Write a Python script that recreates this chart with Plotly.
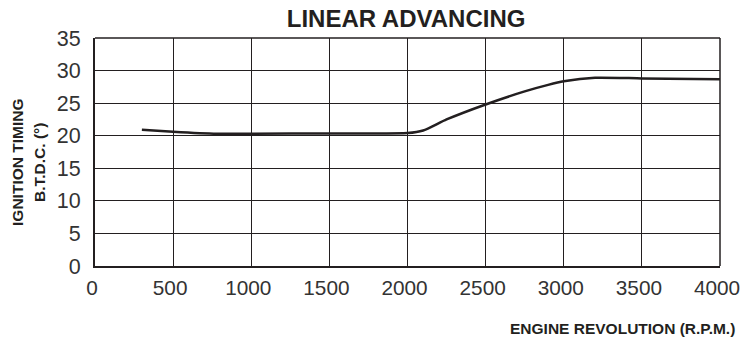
import plotly.graph_objects as go

rpm = [300, 550, 800, 1000, 1500, 2000, 2100, 2250, 2500, 2750, 2900, 3000, 3200, 3500, 4000]
timing = [20.9, 20.55, 20.3, 20.3, 20.35, 20.4, 20.8, 22.5, 24.8, 26.8, 27.8, 28.35, 28.9, 28.8, 28.65]

x_ticks = [0, 500, 1000, 1500, 2000, 2500, 3000, 3500, 4000]
y_ticks = [0, 5, 10, 15, 20, 25, 30, 35]

INK = "#231f20"
FONT = "Liberation Sans, Arial, sans-serif"

fig = go.Figure()
fig.add_trace(
    go.Scatter(
        x=rpm,
        y=timing,
        mode="lines",
        line=dict(color=INK, width=2.5, shape="spline", smoothing=0.6),
        showlegend=False,
    )
)

fig.update_layout(
    width=741,
    height=339,
    margin=dict(l=95, r=21, t=38, b=73),
    paper_bgcolor="white",
    plot_bgcolor="white",
    font=dict(family=FONT, color=INK),
    title=dict(
        text="<b>LINEAR ADVANCING</b>",
        x=0.548,
        xanchor="center",
        y=0.945,
        yanchor="middle",
        font=dict(size=24, family=FONT, color=INK),
    ),
    xaxis=dict(
        range=[0, 4000],
        tickvals=x_ticks,
        showgrid=True,
        gridcolor=INK,
        gridwidth=1,
        showline=True,
        linecolor=INK,
        linewidth=2,
        ticks="",
        zeroline=False,
        automargin=False,
        ticklabeloverflow="allow",
        ticklabelshift=-3,
        tickfont=dict(size=20.8, color="#333333"),
        ticklabelstandoff=2,
    ),
    yaxis=dict(
        range=[0, 35],
        tickvals=y_ticks,
        showgrid=True,
        gridcolor=INK,
        gridwidth=1,
        showline=True,
        linecolor=INK,
        linewidth=2,
        ticks="",
        zeroline=False,
        automargin=False,
        ticklabeloverflow="allow",
        tickfont=dict(size=21.5, color="#333333"),
        ticklabelstandoff=8,
    ),
    shapes=[
        dict(type="line", xref="paper", yref="paper", x0=0, x1=1, y0=1, y1=1,
             line=dict(color=INK, width=1.5)),
        dict(type="line", xref="paper", yref="paper", x0=1, x1=1, y0=0, y1=1,
             line=dict(color=INK, width=1.5)),
    ],
    annotations=[
        dict(text="<b>IGNITION TIMING</b>", xref="paper", yref="paper",
             x=-0.1232, y=0.452, xanchor="center", yanchor="middle", textangle=-90,
             showarrow=False, font=dict(size=15.5, family=FONT, color=INK)),
        dict(text="<b>B.T.D.C. (°)</b>", xref="paper", yref="paper",
             x=-0.088, y=0.452, xanchor="center", yanchor="middle", textangle=-90,
             showarrow=False, font=dict(size=15.5, family=FONT, color=INK)),
        dict(text="<b>ENGINE REVOLUTION (R.P.M.)</b>", xref="paper", yref="paper",
             x=1.0272, y=-0.272, xanchor="right", yanchor="middle",
             showarrow=False, font=dict(size=15.5, family=FONT, color=INK)),
    ],
)

fig.write_html(
    "out.html",
    config={"displayModeBar": False},
    post_script="document.body.style.margin='0';",
)
